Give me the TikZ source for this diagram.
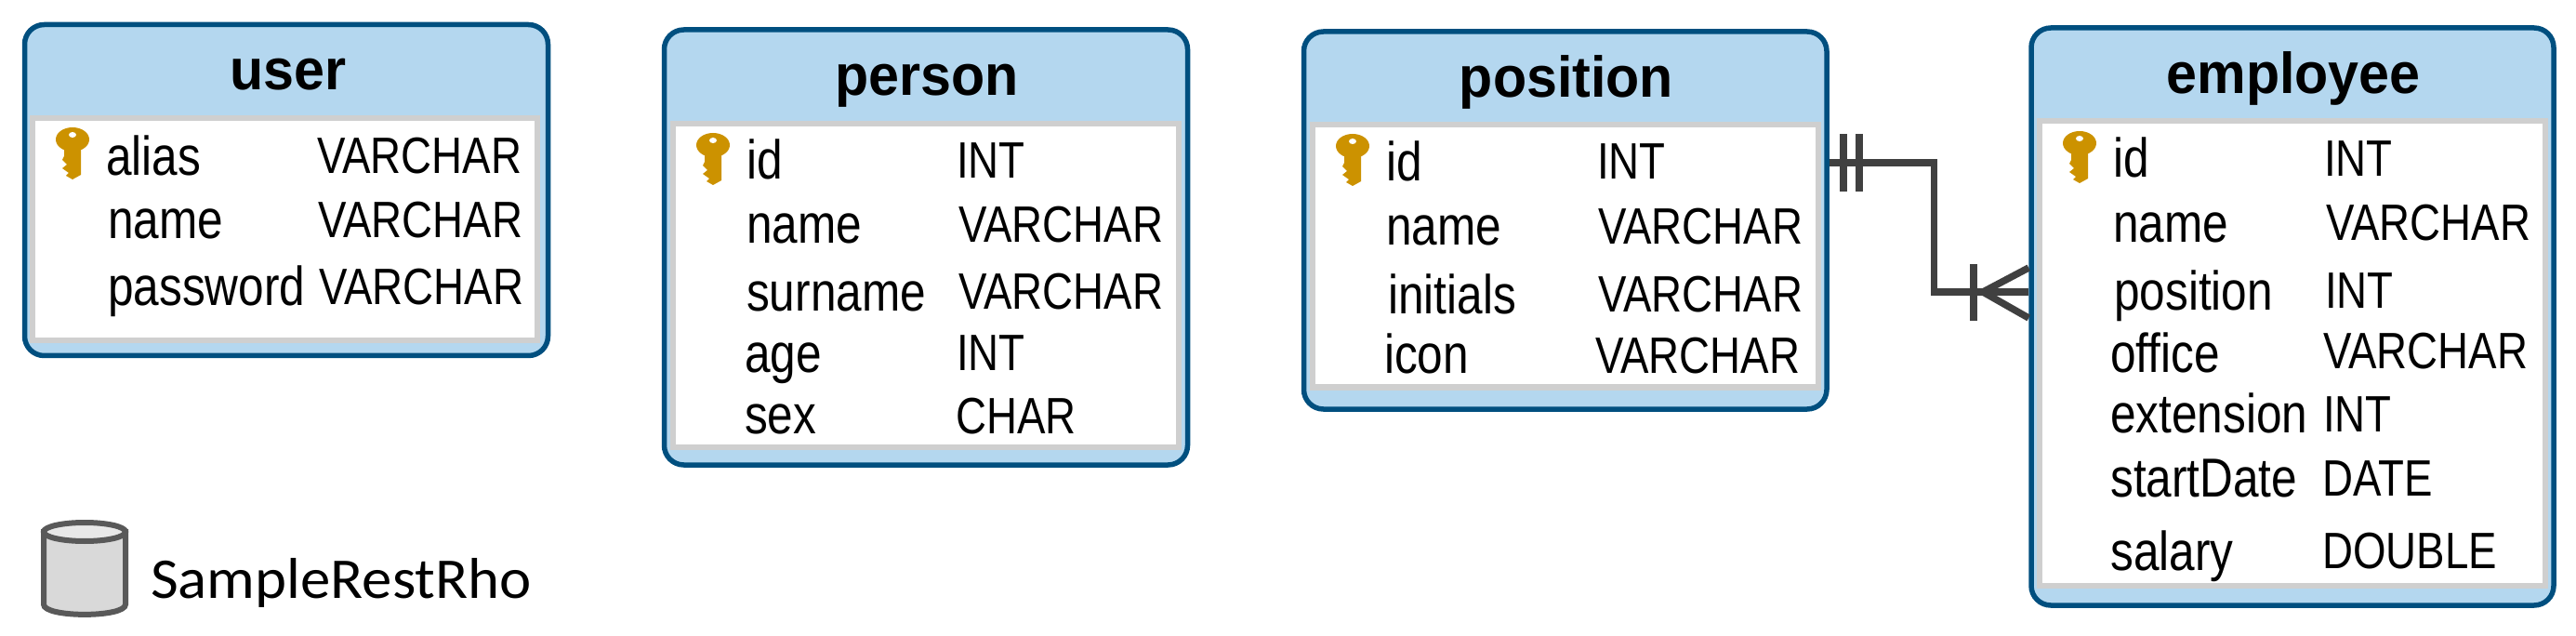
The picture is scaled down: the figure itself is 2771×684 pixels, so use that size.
\documentclass[tikz,border=0pt]{standalone}
\usepackage{fontspec}
\newfontfamily\namefont[FakeStretch=0.84]{Liberation Sans}
\newfontfamily\typefont[FakeStretch=0.83]{Liberation Sans}
\newfontfamily\headfont[FakeStretch=0.955]{Liberation Sans}
\newfontfamily\dbfont[FakeStretch=1.045]{Carlito}
\definecolor{headblue}{HTML}{B4D7EF}
\definecolor{edgeblue}{HTML}{004F7F}
\definecolor{rimgrey}{HTML}{CFCFCF}
\definecolor{keygold}{HTML}{CC9200}
\definecolor{reldark}{HTML}{404040}
\definecolor{dbedge}{HTML}{595959}
\tikzset{
  tablebox/.style={draw=edgeblue, fill=headblue, line width=5.5pt, rounded corners=21pt, inner sep=0pt},
  tablebody/.style={draw=rimgrey, fill=white, line width=6pt, inner sep=0pt},
  nametext/.style={anchor=base west, inner sep=0pt, font=\fontsize{59}{64}\namefont},
  typetext/.style={anchor=base west, inner sep=0pt, font=\fontsize{55}{60}\typefont},
  headtext/.style={anchor=base, inner sep=0pt, font=\fontsize{62}{70}\headfont\bfseries},
  relline/.style={draw=reldark, line width=7.5pt},
  keyicon/.pic={
    \fill[keygold] (0,13) ellipse [x radius=18, y radius=13];
    \fill[keygold] (-9,22) -- (9,22) -- (9,51) -- (0,56) -- (-7,52) -- (-4,49) -- (-11,44)
      -- (-6,40) -- (-11,35) -- (-9,31) -- cycle;
    \fill[white] (0,8) ellipse [x radius=4, y radius=3];
  }
}

\begin{document}
\begin{tikzpicture}[x=1pt,y=-1pt]
  \useasboundingbox (0,0) rectangle (2771,684);

  \node[tablebox, minimum width=563pt, minimum height=356pt] (user) at (308,204.5) {};
  \node[tablebody, minimum width=543.5pt, minimum height=239pt] (userbody) at (306.5,246.5) {};
  \node[headtext] (ut) at (310,97) {user};
  \pic at (78,137) {keyicon};
  \node[nametext] (un1) at (114,189)   {alias};
  \node[nametext] (un2) at (116,257)   {name};
  \node[nametext] (un3) at (116,329)   {password};
  \node[typetext] (uc1) at (341,187)   {VARCHAR};
  \node[typetext] (uc2) at (342,256)   {VARCHAR};
  \node[typetext] (uc3) at (343,328)   {VARCHAR};

  \node[tablebox, minimum width=563pt, minimum height=468pt] (person) at (996,266) {};
  \node[tablebody, minimum width=544.5pt, minimum height=348pt] (personbody) at (995.75,307) {};
  \node[headtext] (pt) at (997,103) {person};
  \pic at (767,143) {keyicon};
  \node[nametext] (pn1) at (803,193) {id};
  \node[nametext] (pn2) at (803,262) {name};
  \node[nametext] (pn3) at (803,335) {surname};
  \node[nametext] (pn4) at (801,401) {age};
  \node[nametext] (pn5) at (801,466) {sex};
  \node[typetext] (pc1) at (1029,192) {INT};
  \node[typetext] (pc2) at (1031,261) {VARCHAR};
  \node[typetext] (pc3) at (1031,333) {VARCHAR};
  \node[typetext] (pc4) at (1029,399) {INT};
  \node[typetext] (pc5) at (1028,466) {CHAR};

  \node[tablebox, minimum width=562.5pt, minimum height=406pt] (position) at (1683.75,237) {};
  \node[tablebody, minimum width=543.5pt, minimum height=282pt] (positionbody) at (1683.75,275.5) {};
  \node[headtext] (ot) at (1685,105) {position};
  \pic at (1455,144) {keyicon};
  \node[nametext] (on1) at (1491,195) {id};
  \node[nametext] (on2) at (1491,264) {name};
  \node[nametext] (on3) at (1493,338) {initials};
  \node[nametext] (on4) at (1489,402) {icon};
  \node[typetext] (oc1) at (1718,193) {INT};
  \node[typetext] (oc2) at (1719,263) {VARCHAR};
  \node[typetext] (oc3) at (1719,336) {VARCHAR};
  \node[typetext] (oc4) at (1716,402) {VARCHAR};

  \node[tablebox, minimum width=562pt, minimum height=621pt] (employee) at (2466,340.5) {};
  \node[tablebody, minimum width=544.5pt, minimum height=500pt] (employeebody) at (2465.75,380) {};
  \node[headtext] (et) at (2467,101) {employee};
  \pic at (2237,141) {keyicon};
  \node[nametext] (en1) at (2273,191) {id};
  \node[nametext] (en2) at (2273,261) {name};
  \node[nametext] (en3) at (2274,334) {position};
  \node[nametext] (en4) at (2270,400) {office};
  \node[nametext] (en5) at (2270,465) {extension};
  \node[nametext] (en6) at (2270,534) {startDate};
  \node[nametext] (en7) at (2270,613) {salary};
  \node[typetext] (ec1) at (2500,190) {INT};
  \node[typetext] (ec2) at (2502,258.5) {VARCHAR};
  \node[typetext] (ec3) at (2501,332) {INT};
  \node[typetext] (ec4) at (2499,397) {VARCHAR};
  \node[typetext] (ec5) at (2499,464) {INT};
  \node[typetext] (ec6) at (2498,533) {DATE};
  \node[typetext] (ec7) at (2498,611) {DOUBLE};

  \coordinate (reltop) at (position.east |- 0,175);
  \coordinate (relbot) at (employee.west |- 0,314);
  \coordinate (crow)   at (2133,314);
  \draw[relline] (reltop) -| (2080.5,314) -- (relbot);
  \draw[relline] (1983,144) -- (1983,206);
  \draw[relline] (2000,144) -- (2000,206);
  \draw[relline] (2123,284) -- (2123,345);
  \draw[relline] (crow) -- (employee.west |- 0,288);
  \draw[relline] (crow) -- (employee.west |- 0,342);

  \draw[draw=dbedge, fill=black!15, line width=6pt]
    (47,572) -- (47,650) .. controls (47,664.5) and (135,664.5) .. (135,650) -- (135,572) -- cycle;
  \draw[draw=dbedge, fill=black!9, line width=6pt] (91,572) ellipse [x radius=44, y radius=10];
  \node[anchor=base west, inner sep=0pt, font=\fontsize{62}{66}\dbfont] (db) at (162,643) {SampleRestRho};
\end{tikzpicture}
\end{document}
